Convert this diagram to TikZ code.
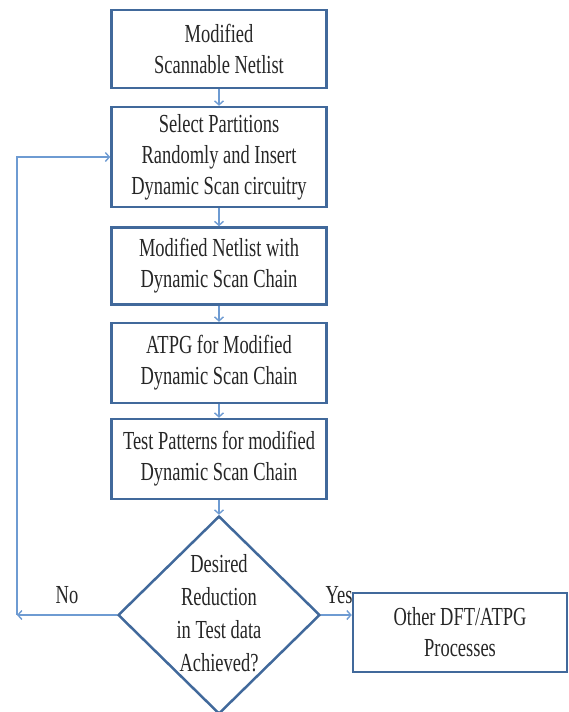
\documentclass[tikz,border=0pt]{standalone}
\usepackage{fontspec}
\setmainfont{Liberation Serif}[FakeStretch=0.71]
\usetikzlibrary{shapes.geometric,arrows.meta}

\definecolor{boxblue}{RGB}{65,105,155}
\definecolor{arrowblue}{RGB}{110,155,210}

\begin{document}
\begin{tikzpicture}[
                x=1pt, y=1pt,
                >={Straight Barb[length=4pt,width=9pt]},
                font=\fontsize{26}{31}\selectfont,
                stepbox/.style={draw=boxblue, line width=2.5pt, minimum width=215pt, align=center, inner sep=0pt, text=black!85},
                decision/.style={diamond, draw=boxblue, line width=2.5pt, minimum width=202pt, minimum height=198pt, inner sep=0pt},
                flow/.style={->, draw=arrowblue, line width=1.4pt}
            ]
            \useasboundingbox (0,0) rectangle (568,-712);

            % 流程方框
            \node[stepbox, minimum height=78pt] (netlist) at (219,-49) {Modified\\Scannable Netlist};
            \node[stepbox, minimum height=100pt] (select) at (219,-157) {Select Partitions\\Randomly and Insert\\Dynamic Scan circuitry};
            \node[stepbox, minimum height=77pt] (modnet) at (219,-266) {Modified Netlist with\\Dynamic Scan Chain};
            \node[stepbox, minimum height=80pt] (atpg) at (219,-363) {ATPG for Modified\\Dynamic Scan Chain};
            \node[stepbox, minimum height=80pt] (patterns) at (219,-459) {Test Patterns for modified\\Dynamic Scan Chain};

            % 判断
            \node[decision] (check) at (219,-615) {};
            \node[align=center, text=black!85, font=\fontsize{26}{33}\selectfont] (checktext) at (219,-613) {Desired\\Reduction\\in Test data\\Achieved?};

            \node[stepbox, minimum width=214pt, minimum height=79pt] (other) at (460,-632.5) {Other DFT/ATPG\\Processes};

            % 箭头
            \draw[flow] (netlist) -- (select);
            \draw[flow] (select) -- (modnet);
            \draw[flow] (modnet) -- (atpg);
            \draw[flow] (atpg) -- (patterns);
            \draw[flow] (patterns) -- (check);
            \draw[flow] (check.east) -- (check.east -| other.west);

            % 回路
            \coordinate (corner) at (17,-615);
            \draw[flow] (check.west) -- (corner);
            \draw[flow] (corner) |- (select.west);

            \node[text=black!85] (no) at (67,-595) {No};
            \node[text=black!85] (yes) at (339,-595) {Yes};
        \end{tikzpicture}
\end{document}
